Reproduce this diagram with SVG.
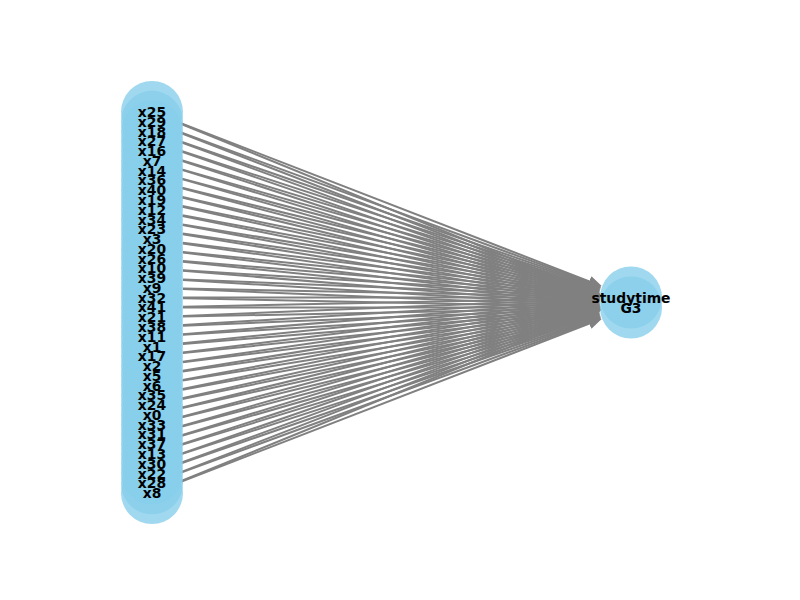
<svg xmlns="http://www.w3.org/2000/svg" width="800" height="600" viewBox="0 0 800 600">
<style>
.e{stroke:#808080;stroke-width:2;fill:none;marker-end:url(#ah)}
.n{fill:#87CEEB;fill-opacity:0.8}
.t{font-family:"DejaVu Sans","Liberation Sans",sans-serif;font-weight:bold;font-size:13.9px;fill:#000;text-anchor:middle;dominant-baseline:central}
</style>
<defs>
<marker id="ah" markerUnits="userSpaceOnUse" markerWidth="14" markerHeight="12" viewBox="0 0 14 12" refX="0.5" refY="6" orient="auto">
<path d="M0,0.5 L13,6 L0,11.5 z" fill="#808080"/>
</marker>
</defs>
<rect width="800" height="600" fill="#fff"/>
<g id="edges">
<line class="e" x1="180.9" y1="123.2" x2="590.0" y2="281.6"/>
<line class="e" x1="180.7" y1="123.7" x2="590.3" y2="290.9"/>
<line class="e" x1="181.1" y1="132.5" x2="589.7" y2="282.3"/>
<line class="e" x1="180.9" y1="133.0" x2="590.0" y2="291.6"/>
<line class="e" x1="181.3" y1="141.7" x2="589.4" y2="283.1"/>
<line class="e" x1="181.1" y1="142.2" x2="589.7" y2="292.3"/>
<line class="e" x1="181.5" y1="150.9" x2="589.2" y2="283.9"/>
<line class="e" x1="181.3" y1="151.5" x2="589.4" y2="293.1"/>
<line class="e" x1="181.7" y1="160.1" x2="588.9" y2="284.6"/>
<line class="e" x1="181.5" y1="160.7" x2="589.2" y2="293.9"/>
<line class="e" x1="181.8" y1="169.4" x2="588.7" y2="285.4"/>
<line class="e" x1="181.7" y1="169.9" x2="588.9" y2="294.6"/>
<line class="e" x1="182.0" y1="178.6" x2="588.5" y2="286.2"/>
<line class="e" x1="181.8" y1="179.1" x2="588.7" y2="295.4"/>
<line class="e" x1="182.1" y1="187.8" x2="588.3" y2="287.0"/>
<line class="e" x1="182.0" y1="188.3" x2="588.5" y2="296.2"/>
<line class="e" x1="182.3" y1="196.9" x2="588.1" y2="287.9"/>
<line class="e" x1="182.1" y1="197.5" x2="588.3" y2="297.0"/>
<line class="e" x1="182.4" y1="206.1" x2="587.9" y2="288.7"/>
<line class="e" x1="182.3" y1="206.7" x2="588.1" y2="297.9"/>
<line class="e" x1="182.5" y1="215.3" x2="587.7" y2="289.6"/>
<line class="e" x1="182.4" y1="215.9" x2="587.9" y2="298.7"/>
<line class="e" x1="182.6" y1="224.5" x2="587.6" y2="290.4"/>
<line class="e" x1="182.5" y1="225.1" x2="587.7" y2="299.6"/>
<line class="e" x1="182.7" y1="233.6" x2="587.4" y2="291.3"/>
<line class="e" x1="182.6" y1="234.2" x2="587.6" y2="300.4"/>
<line class="e" x1="182.8" y1="242.8" x2="587.3" y2="292.2"/>
<line class="e" x1="182.7" y1="243.4" x2="587.4" y2="301.3"/>
<line class="e" x1="182.8" y1="251.9" x2="587.2" y2="293.0"/>
<line class="e" x1="182.8" y1="252.5" x2="587.3" y2="302.2"/>
<line class="e" x1="182.9" y1="261.1" x2="587.1" y2="293.9"/>
<line class="e" x1="182.8" y1="261.7" x2="587.2" y2="303.0"/>
<line class="e" x1="182.9" y1="270.2" x2="587.1" y2="294.8"/>
<line class="e" x1="182.9" y1="270.8" x2="587.1" y2="303.9"/>
<line class="e" x1="183.0" y1="279.4" x2="587.0" y2="295.7"/>
<line class="e" x1="182.9" y1="280.0" x2="587.1" y2="304.8"/>
<line class="e" x1="183.0" y1="288.5" x2="587.0" y2="296.6"/>
<line class="e" x1="183.0" y1="289.1" x2="587.0" y2="305.7"/>
<line class="e" x1="183.0" y1="297.6" x2="587.0" y2="297.5"/>
<line class="e" x1="183.0" y1="298.3" x2="587.0" y2="306.6"/>
<line class="e" x1="183.0" y1="306.8" x2="587.0" y2="298.4"/>
<line class="e" x1="183.0" y1="307.4" x2="587.0" y2="307.5"/>
<line class="e" x1="183.0" y1="315.9" x2="587.0" y2="299.3"/>
<line class="e" x1="183.0" y1="316.6" x2="587.0" y2="308.4"/>
<line class="e" x1="182.9" y1="325.1" x2="587.1" y2="300.2"/>
<line class="e" x1="183.0" y1="325.7" x2="587.0" y2="309.3"/>
<line class="e" x1="182.9" y1="334.2" x2="587.1" y2="301.1"/>
<line class="e" x1="182.9" y1="334.8" x2="587.1" y2="310.2"/>
<line class="e" x1="182.8" y1="343.3" x2="587.2" y2="302.0"/>
<line class="e" x1="182.9" y1="344.0" x2="587.1" y2="311.1"/>
<line class="e" x1="182.8" y1="352.5" x2="587.3" y2="302.8"/>
<line class="e" x1="182.8" y1="353.1" x2="587.2" y2="312.0"/>
<line class="e" x1="182.7" y1="361.7" x2="587.4" y2="303.7"/>
<line class="e" x1="182.8" y1="362.3" x2="587.3" y2="312.8"/>
<line class="e" x1="182.6" y1="370.8" x2="587.6" y2="304.6"/>
<line class="e" x1="182.7" y1="371.4" x2="587.4" y2="313.7"/>
<line class="e" x1="182.5" y1="380.0" x2="587.7" y2="305.4"/>
<line class="e" x1="182.6" y1="380.6" x2="587.6" y2="314.6"/>
<line class="e" x1="182.4" y1="389.1" x2="587.9" y2="306.3"/>
<line class="e" x1="182.5" y1="389.7" x2="587.7" y2="315.4"/>
<line class="e" x1="182.3" y1="398.3" x2="588.1" y2="307.1"/>
<line class="e" x1="182.4" y1="398.9" x2="587.9" y2="316.3"/>
<line class="e" x1="182.1" y1="407.5" x2="588.3" y2="308.0"/>
<line class="e" x1="182.3" y1="408.1" x2="588.1" y2="317.1"/>
<line class="e" x1="182.0" y1="416.7" x2="588.5" y2="308.8"/>
<line class="e" x1="182.1" y1="417.3" x2="588.3" y2="318.0"/>
<line class="e" x1="181.8" y1="425.9" x2="588.7" y2="309.6"/>
<line class="e" x1="182.0" y1="426.5" x2="588.5" y2="318.8"/>
<line class="e" x1="181.7" y1="435.1" x2="588.9" y2="310.4"/>
<line class="e" x1="181.8" y1="435.7" x2="588.7" y2="319.6"/>
<line class="e" x1="181.5" y1="444.3" x2="589.2" y2="311.2"/>
<line class="e" x1="181.7" y1="444.9" x2="588.9" y2="320.4"/>
<line class="e" x1="181.3" y1="453.6" x2="589.4" y2="311.9"/>
<line class="e" x1="181.5" y1="454.1" x2="589.2" y2="321.2"/>
<line class="e" x1="181.1" y1="462.8" x2="589.7" y2="312.7"/>
<line class="e" x1="181.3" y1="463.3" x2="589.4" y2="321.9"/>
<line class="e" x1="180.9" y1="472.1" x2="590.0" y2="313.4"/>
<line class="e" x1="181.1" y1="472.6" x2="589.7" y2="322.7"/>
<line class="e" x1="180.7" y1="481.3" x2="590.3" y2="314.1"/>
<line class="e" x1="180.9" y1="481.8" x2="590.0" y2="323.4"/>
</g>
<g id="nodes">
<g id="node-x25"><circle class="n" cx="152" cy="112.0" r="31"/></g>
<g id="node-x29"><circle class="n" cx="152" cy="121.8" r="31"/></g>
<g id="node-x18"><circle class="n" cx="152" cy="131.5" r="31"/></g>
<g id="node-x27"><circle class="n" cx="152" cy="141.3" r="31"/></g>
<g id="node-x16"><circle class="n" cx="152" cy="151.1" r="31"/></g>
<g id="node-x7"><circle class="n" cx="152" cy="160.9" r="31"/></g>
<g id="node-x14"><circle class="n" cx="152" cy="170.6" r="31"/></g>
<g id="node-x36"><circle class="n" cx="152" cy="180.4" r="31"/></g>
<g id="node-x40"><circle class="n" cx="152" cy="190.2" r="31"/></g>
<g id="node-x19"><circle class="n" cx="152" cy="199.9" r="31"/></g>
<g id="node-x12"><circle class="n" cx="152" cy="209.7" r="31"/></g>
<g id="node-x34"><circle class="n" cx="152" cy="219.5" r="31"/></g>
<g id="node-x23"><circle class="n" cx="152" cy="229.2" r="31"/></g>
<g id="node-x3"><circle class="n" cx="152" cy="239.0" r="31"/></g>
<g id="node-x20"><circle class="n" cx="152" cy="248.8" r="31"/></g>
<g id="node-x26"><circle class="n" cx="152" cy="258.6" r="31"/></g>
<g id="node-x10"><circle class="n" cx="152" cy="268.3" r="31"/></g>
<g id="node-x39"><circle class="n" cx="152" cy="278.1" r="31"/></g>
<g id="node-x9"><circle class="n" cx="152" cy="287.9" r="31"/></g>
<g id="node-x32"><circle class="n" cx="152" cy="297.6" r="31"/></g>
<g id="node-x41"><circle class="n" cx="152" cy="307.4" r="31"/></g>
<g id="node-x21"><circle class="n" cx="152" cy="317.2" r="31"/></g>
<g id="node-x38"><circle class="n" cx="152" cy="326.9" r="31"/></g>
<g id="node-x11"><circle class="n" cx="152" cy="336.7" r="31"/></g>
<g id="node-x1"><circle class="n" cx="152" cy="346.5" r="31"/></g>
<g id="node-x17"><circle class="n" cx="152" cy="356.3" r="31"/></g>
<g id="node-x2"><circle class="n" cx="152" cy="366.0" r="31"/></g>
<g id="node-x5"><circle class="n" cx="152" cy="375.8" r="31"/></g>
<g id="node-x6"><circle class="n" cx="152" cy="385.6" r="31"/></g>
<g id="node-x35"><circle class="n" cx="152" cy="395.3" r="31"/></g>
<g id="node-x24"><circle class="n" cx="152" cy="405.1" r="31"/></g>
<g id="node-x0"><circle class="n" cx="152" cy="414.9" r="31"/></g>
<g id="node-x33"><circle class="n" cx="152" cy="424.6" r="31"/></g>
<g id="node-x31"><circle class="n" cx="152" cy="434.4" r="31"/></g>
<g id="node-x37"><circle class="n" cx="152" cy="444.2" r="31"/></g>
<g id="node-x13"><circle class="n" cx="152" cy="454.0" r="31"/></g>
<g id="node-x30"><circle class="n" cx="152" cy="463.7" r="31"/></g>
<g id="node-x22"><circle class="n" cx="152" cy="473.5" r="31"/></g>
<g id="node-x28"><circle class="n" cx="152" cy="483.3" r="31"/></g>
<g id="node-x8"><circle class="n" cx="152" cy="493.0" r="31"/></g>
<g id="node-studytime"><circle class="n" cx="631" cy="297.5" r="31"/></g>
<g id="node-G3"><circle class="n" cx="631" cy="307.5" r="31"/></g>
</g>
<g id="labels">
<text class="t" x="152" y="112.0">x25</text>
<text class="t" x="152" y="121.8">x29</text>
<text class="t" x="152" y="131.5">x18</text>
<text class="t" x="152" y="141.3">x27</text>
<text class="t" x="152" y="151.1">x16</text>
<text class="t" x="152" y="160.9">x7</text>
<text class="t" x="152" y="170.6">x14</text>
<text class="t" x="152" y="180.4">x36</text>
<text class="t" x="152" y="190.2">x40</text>
<text class="t" x="152" y="199.9">x19</text>
<text class="t" x="152" y="209.7">x12</text>
<text class="t" x="152" y="219.5">x34</text>
<text class="t" x="152" y="229.2">x23</text>
<text class="t" x="152" y="239.0">x3</text>
<text class="t" x="152" y="248.8">x20</text>
<text class="t" x="152" y="258.6">x26</text>
<text class="t" x="152" y="268.3">x10</text>
<text class="t" x="152" y="278.1">x39</text>
<text class="t" x="152" y="287.9">x9</text>
<text class="t" x="152" y="297.6">x32</text>
<text class="t" x="152" y="307.4">x41</text>
<text class="t" x="152" y="317.2">x21</text>
<text class="t" x="152" y="326.9">x38</text>
<text class="t" x="152" y="336.7">x11</text>
<text class="t" x="152" y="346.5">x1</text>
<text class="t" x="152" y="356.3">x17</text>
<text class="t" x="152" y="366.0">x2</text>
<text class="t" x="152" y="375.8">x5</text>
<text class="t" x="152" y="385.6">x6</text>
<text class="t" x="152" y="395.3">x35</text>
<text class="t" x="152" y="405.1">x24</text>
<text class="t" x="152" y="414.9">x0</text>
<text class="t" x="152" y="424.6">x33</text>
<text class="t" x="152" y="434.4">x31</text>
<text class="t" x="152" y="444.2">x37</text>
<text class="t" x="152" y="454.0">x13</text>
<text class="t" x="152" y="463.7">x30</text>
<text class="t" x="152" y="473.5">x22</text>
<text class="t" x="152" y="483.3">x28</text>
<text class="t" x="152" y="493.0">x8</text>
<text class="t" x="631" y="297.5">studytime</text>
<text class="t" x="631" y="307.5">G3</text>
</g>
</svg>
